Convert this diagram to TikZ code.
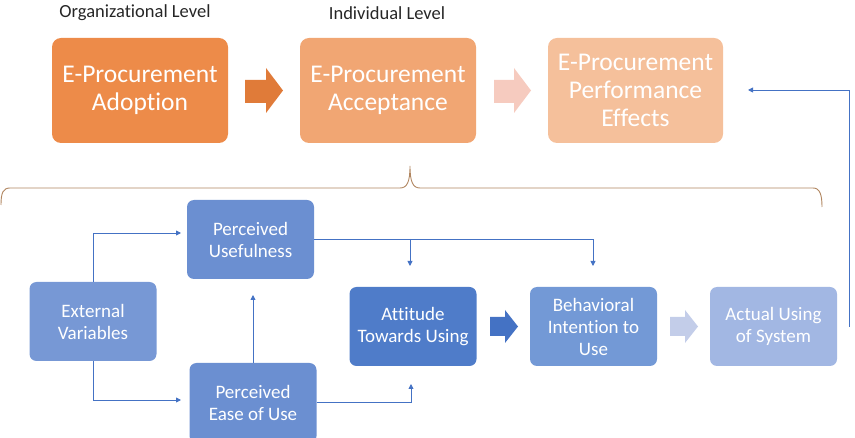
\documentclass[tikz,border=0pt]{standalone}
\usepackage{fontspec}
\setmainfont[Ligatures=NoCommon]{Carlito}
\usetikzlibrary{arrows.meta}
\definecolor{orA}{HTML}{ED8B49}
\definecolor{orB}{HTML}{F1A673}
\definecolor{orC}{HTML}{F5C09B}
\definecolor{arA}{HTML}{E07B39}
\definecolor{arB}{HTML}{F6CBBF}
\definecolor{blA}{HTML}{6B8FD1}
\definecolor{blB}{HTML}{4F7CC9}
\definecolor{blC}{HTML}{7399D6}
\definecolor{blD}{HTML}{A2B7E3}
\definecolor{arC}{HTML}{4472C4}
\definecolor{arD}{HTML}{C3CDE9}
\definecolor{lineb}{HTML}{4472C4}
\definecolor{brace}{HTML}{B0855F}
\tikzset{
  topbox/.style={rounded corners=9pt, minimum width=176pt, minimum height=105pt, align=center,
    text=white, font=\fontsize{25.5}{28}\selectfont, inner sep=0pt},
  botbox/.style={rounded corners=7pt, minimum width=127pt, minimum height=79pt, align=center,
    text=white, font=\fontsize{19}{22}\selectfont, inner sep=0pt},
  lvl/.style={text=black!85, font=\fontsize{18.5}{20}\selectfont, inner sep=0pt},
  conn/.style={draw=lineb, line width=0.9pt, -{Triangle[length=5pt,width=5pt]}},
}
\begin{document}
\begin{tikzpicture}[x=1pt,y=-1pt]
\useasboundingbox (0,0) rectangle (855,438);
% level labels
\node[lvl] (orglvl) at (135,13) {Organizational Level};
\node[lvl] (indlvl) at (387,13) {Individual Level};
% top boxes
\node[topbox, fill=orA] (adopt) at (140,90.5) {E-Procurement\\Adoption};
\node[topbox, fill=orB] (accept) at (388,90.5) {E-Procurement\\Acceptance};
\node[topbox, fill=orC, minimum width=175pt] (perf) at (635.5,90.5) {E-Procurement\\Performance\\Effects};
% block arrows top
\fill[arA] (245,80) -- (266,80) -- (266,68) -- (283,90.5) -- (266,113) -- (266,103) -- (245,103) -- cycle;
\fill[arB] (494,80) -- (514,80) -- (514,68) -- (531,90.5) -- (514,113) -- (514,103) -- (494,103) -- cycle;
% brace
\draw[brace, line width=0.9pt] (1,205) .. controls (1,193) and (3,188) .. (10,188) -- (400,188)
  .. controls (407,188) and (410,182) .. (410,166)
  .. controls (410,182) and (413,188) .. (420,188) -- (813,188)
  .. controls (820,188) and (822,195) .. (822,207);
% bottom boxes
\node[botbox, fill=blA] (pu) at (250.5,239.5) {Perceived\\Usefulness};
\node[botbox, fill=blA!92!white] (ev) at (93,321.5) {External\\Variables};
\node[botbox, fill=blA, minimum height=80pt] (peou) at (253,403) {Perceived\\Ease of Use};
\node[botbox, fill=blB] (att) at (413,326.5) {Attitude\\Towards Using};
\node[botbox, fill=blC] (bi) at (593.5,326.5) {Behavioral\\Intention to\\Use};
\node[botbox, fill=blD] (act) at (773.5,326.5) {Actual Using\\of System};
% block arrows bottom
\fill[arC] (490,317) -- (505,317) -- (505,310) -- (518,326.5) -- (505,343) -- (505,336) -- (490,336) -- cycle;
\fill[arD] (670,317) -- (685,317) -- (685,310) -- (698,326.5) -- (685,343) -- (685,336) -- (670,336) -- cycle;
% connectors
\draw[conn] (ev.north) |- (181,233);
\draw[conn] (ev.south) |- (181,400);
\draw[conn] (peou.north) -- (253,295);
\coordinate (pubr) at (410,239);
\draw[conn] (pu.east|-0,239) -| (593,266);
\draw[conn] (pubr) -- (410,266);
\draw[conn] (peou.east|-0,402) -| (411,384);
% feedback
\coordinate (fb0) at (849,327);
\coordinate (fb1) at (849,90);
\draw[conn] (fb0) -- (fb1) -- (748,90);
\end{tikzpicture}
\end{document}
